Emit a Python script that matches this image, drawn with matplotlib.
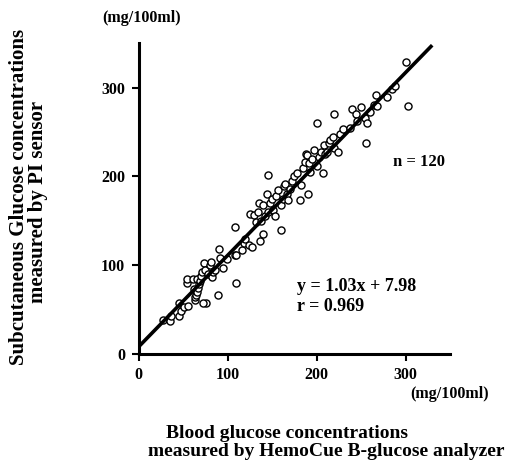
import matplotlib
matplotlib.use("Agg")
import matplotlib.pyplot as plt
import numpy as np

# ---- data ----
blood_glucose = [
    28, 35, 36, 45, 48, 46, 51, 56, 54, 55, 61, 66, 62, 63, 64, 65, 66, 67, 68, 69,
    70, 71, 74, 75, 78, 80, 82, 83, 84, 86, 76, 73, 89, 91, 92, 95, 99, 110,
    108, 108, 110, 116, 118, 120, 124, 125, 128, 130, 132, 134, 135, 136, 138, 140,
    140, 142, 144, 145, 146, 148, 150, 151, 153, 155, 157, 160, 160, 162, 163, 165,
    167, 168, 170,
    172, 175, 178, 181, 183, 185, 187, 188, 190, 189, 192, 193, 195, 197, 200, 200,
    203, 205, 207, 208, 210, 212, 214, 215, 218, 220, 220, 224, 226, 230,
    238, 240, 244, 246, 250, 255, 256, 257, 260, 265, 267, 268, 279, 285, 288, 300, 303,
]
pi_sensor = [
    38, 37, 43, 43, 48, 57, 53, 54, 80, 84, 85, 85, 73, 61, 64, 67, 70, 74, 79, 82,
    88, 92, 102, 95, 90, 100, 104, 87, 92, 95, 58, 58, 66, 118, 108, 97, 107, 80,
    143, 111, 112, 117, 125, 130, 123, 158, 121, 157, 149, 160, 170, 127, 150, 168,
    135, 155, 180, 202, 160, 170, 175, 162, 155, 178, 185, 140, 168, 175, 189, 192,
    180, 173, 186,
    195, 200, 204, 174, 190, 210, 216, 225, 180, 224, 215, 205, 220, 230, 260, 212,
    222, 228, 204, 235, 225, 228, 238, 241, 245, 232, 270, 228, 248, 253,
    255, 276, 270, 262, 278, 266, 238, 260, 273, 280, 292, 279, 290, 298, 302, 329, 279,
]
slope = 1.03
intercept = 7.98
line_x = [0, 330]
x_ticks = [0, 100, 200, 300]
y_ticks = [0, 100, 200, 300]
eq_text = "y = 1.03x + 7.98"
r_text = "r = 0.969"
n_text = "n = 120"
unit_text = "(mg/100ml)"
ylabel_lines = ["Subcutaneous Glucose concentrations", "measured by PI sensor"]
xlabel_lines = ["Blood glucose concentrations", "measured by HemoCue B-glucose analyzer"]

plt.rcParams['font.family'] = ['Liberation Serif', 'DejaVu Serif']
plt.rcParams['font.weight'] = 'bold'

W, H = 518, 462
fig = plt.figure(figsize=(W / 100, H / 100), dpi=100)

# axes placement (pixels -> figure fractions)
x0_px, x1_px = 138.5, 450.0
y0_px, y1_px = 354.0, 42.7
ax = fig.add_axes([x0_px / W, (H - y0_px) / H, (x1_px - x0_px) / W, (y0_px - y1_px) / H])
ax.set_xlim(0, 350)
ax.set_ylim(0, 350.7)

ax.scatter(blood_glucose, pi_sensor, s=26, facecolors='white', edgecolors='black',
           linewidths=1.0, zorder=3)
lx = np.array(line_x, dtype=float)
ax.plot(lx, slope * lx + intercept, color='black', lw=2.6, zorder=4,
        solid_capstyle='butt')

for side in ['top', 'right']:
    ax.spines[side].set_visible(False)
for side in ['left', 'bottom']:
    ax.spines[side].set_linewidth(2.2)

ax.set_xticks(x_ticks)
ax.set_yticks(y_ticks)
ax.tick_params(direction='out', length=5, width=1.5, labelsize=11.5, pad=4.5)
for lab in ax.get_xticklabels() + ax.get_yticklabels():
    lab.set_fontweight('bold')

ax.text(178, 75.5, eq_text, fontsize=13, fontweight='bold', ha='left', va='center')
ax.text(178, 54, r_text, fontsize=13, fontweight='bold', ha='left', va='center')
ax.text(286, 216, n_text, fontsize=12, fontweight='bold', ha='left', va='center')

# unit labels
fig.text(102 / W, (H - 18) / H, unit_text, fontsize=11.5, fontweight='bold',
         ha='left', va='center')
fig.text(410 / W, (H - 394) / H, unit_text, fontsize=11.5, fontweight='bold',
         ha='left', va='center')

# axis titles
fig.text(19 / W, (H - 197) / H, ylabel_lines[0], fontsize=15, fontweight='bold',
         rotation=90, ha='center', va='center')
fig.text(38 / W, (H - 202) / H, ylabel_lines[1], fontsize=15, fontweight='bold',
         rotation=90, ha='center', va='center')
fig.text(166 / W, (H - 433) / H, xlabel_lines[0], fontsize=14, fontweight='bold',
         ha='left', va='center')
fig.text(148 / W, (H - 452) / H, xlabel_lines[1], fontsize=14, fontweight='bold',
         ha='left', va='center')

fig.savefig("out.png", dpi=100, facecolor='white')
